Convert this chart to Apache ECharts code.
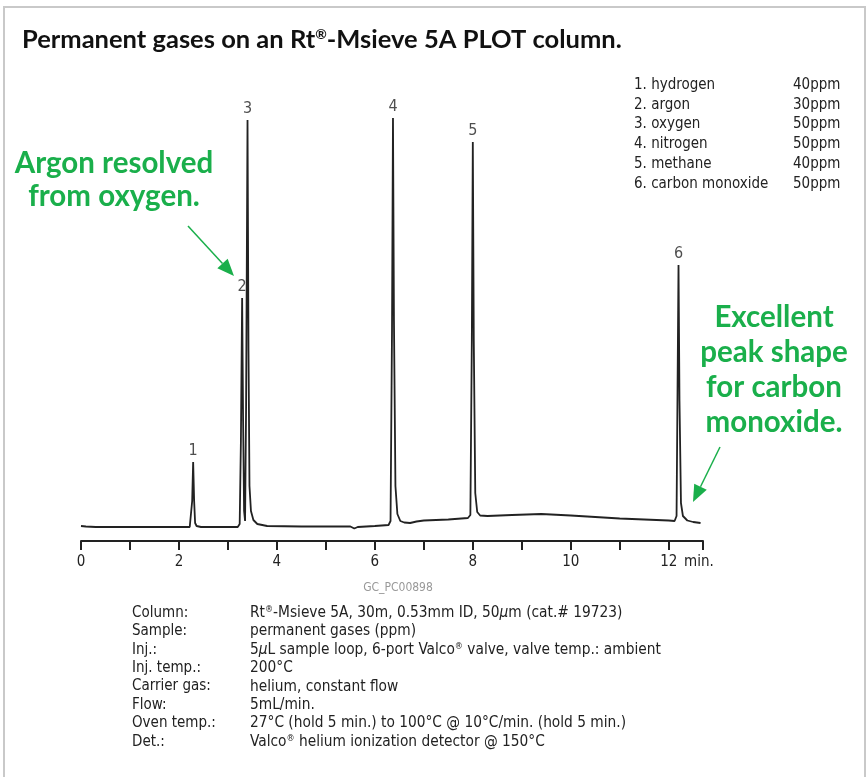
<!DOCTYPE html>
<html>
<head>
<meta charset="utf-8">
<script src="https://cdn.jsdelivr.net/npm/echarts@6/dist/echarts.min.js"></script>
<style>
  html, body { margin: 0; padding: 0; background: #fff; }
  #chart { width: 868px; height: 777px; }
</style>
</head>
<body>
<div id="chart"></div>
<script>
// retention time (min) and detector signal
const traceTime = [
  0.00, 0.10, 0.30, 1.00, 2.00, 2.22, 2.25, 2.27, 2.29, 2.31, 2.33, 2.36, 2.45,
  3.00, 3.20, 3.24, 3.265, 3.29, 3.31, 3.33, 3.35, 3.37, 3.40, 3.42, 3.44, 3.47, 3.52, 3.60, 3.80,
  4.50, 5.50, 5.58, 5.65, 6.00, 6.28, 6.32, 6.35, 6.37, 6.39, 6.42, 6.46, 6.52, 6.60, 6.72, 6.85,
  7.00, 7.50, 7.90, 7.95, 7.98, 8.00, 8.02, 8.05, 8.09, 8.15, 8.30, 8.80, 9.40, 10.00, 11.00,
  12.00, 12.12, 12.16, 12.18, 12.20, 12.22, 12.25, 12.29, 12.38, 12.50, 12.65
];
const traceSignal = [
  15, 14.5, 14, 14, 14, 14, 15.5, 40, 79, 40, 18, 15, 14,
  14, 14, 17, 100, 243, 120, 30, 20, 130, 421, 190, 55, 30, 21, 17, 15,
  14.5, 14.5, 12.5, 14, 15, 16, 20, 210, 423, 220, 55, 27, 20, 18.5, 18, 19.5,
  20.5, 21.5, 23, 26, 200, 399, 200, 48, 29, 25.5, 25, 26, 27, 25.5, 22.5,
  20.5, 20, 25, 150, 276, 140, 38, 25, 20.5, 19, 18
];

const peakNum = ['1', '2', '3', '4', '5', '6'];
const peakName = ['hydrogen', 'argon', 'oxygen', 'nitrogen', 'methane', 'carbon monoxide'];
const peakConc = ['40ppm', '30ppm', '50ppm', '50ppm', '40ppm', '50ppm'];
const peakTime = [2.29, 3.29, 3.40, 6.37, 8.00, 12.20];
const peakHeight = [79, 243, 421, 423, 399, 276];

const xTicks = [0, 2, 4, 6, 8, 10, 12];

const specLabels = ['Column:', 'Sample:', 'Inj.:', 'Inj. temp.:', 'Carrier gas:', 'Flow:', 'Oven temp.:', 'Det.:'];
const specValues = [
  'Rt{sup|®}-Msieve 5A, 30m, 0.53mm ID, 50{it|µ}m (cat.# 19723)',
  'permanent gases (ppm)',
  '5{it|µ}L sample loop, 6-port Valco{sup|®} valve, valve temp.: ambient',
  '200°C',
  'helium, constant flow',
  '5mL/min.',
  '27°C (hold 5 min.) to 100°C @ 10°C/min. (hold 5 min.)',
  'Valco{sup|®} helium ionization detector @ 150°C'
];

const narrow = '"Liberation Sans Narrow", "DejaVu Sans Condensed", sans-serif';
const green = '#1aaf4b';
const ink = '#222';

let chart = echarts.init(document.getElementById('chart'));

function arrow(x1, y1, x2, y2) {
  const a = Math.atan2(y2 - y1, x2 - x1);
  const len = 17, half = 7;
  const bx = x2 - len * Math.cos(a), by = y2 - len * Math.sin(a);
  const px = -Math.sin(a) * half, py = Math.cos(a) * half;
  return [
    { type: 'line', shape: { x1: x1, y1: y1, x2: bx, y2: by }, style: { stroke: green, lineWidth: 1.5 } },
    { type: 'polygon', shape: { points: [[x2, y2], [bx + px, by + py], [bx - px, by - py]] }, style: { fill: green } }
  ];
}

let graphic = [
  { type: 'rect', shape: { x: 4, y: 7, width: 861, height: 790 }, style: { fill: 'none', stroke: '#c9c9c9', lineWidth: 2 } },
  {
    type: 'text', x: 22, y: 40,
    style: {
      text: 'Permanent gases on an Rt{sup|®}-Msieve 5A PLOT column.',
      font: 'bold 25.5px Lato', fill: '#111', verticalAlign: 'middle',
      rich: { sup: { font: 'bold 14px Lato', fill: '#111', padding: [0, 0, 11, 0] } }
    }
  },
  {
    type: 'text', x: 114, y: 180,
    style: {
      text: 'Argon resolved\nfrom oxygen.', font: 'bold 29.5px Lato', fill: green,
      align: 'center', verticalAlign: 'middle', lineHeight: 33
    }
  },
  {
    type: 'text', x: 774, y: 370,
    style: {
      text: 'Excellent\npeak shape\nfor carbon\nmonoxide.', font: 'bold 29.5px Lato', fill: green,
      align: 'center', verticalAlign: 'middle', lineHeight: 35
    }
  },
  { type: 'text', x: 398, y: 588, style: { text: 'GC_PC00898', font: '12px ' + narrow, fill: '#999', align: 'center', verticalAlign: 'middle' } },
  { type: 'text', x: 684, y: 562, style: { text: 'min.', font: '15px ' + narrow, fill: ink, verticalAlign: 'middle' } }
];
graphic = graphic.concat(arrow(188, 226, 234, 276), arrow(720, 447, 693, 502));

peakName.forEach(function (n, i) {
  graphic.push({ type: 'text', x: 634, y: 85 + i * 19.8, style: { text: peakNum[i] + '. ' + n, font: '15px ' + narrow, fill: ink, verticalAlign: 'middle' } });
  graphic.push({ type: 'text', x: 793, y: 85 + i * 19.8, style: { text: peakConc[i], font: '15px ' + narrow, fill: ink, verticalAlign: 'middle' } });
});
specLabels.forEach(function (l, i) {
  const rich = {
    sup: { font: '9px ' + narrow, fill: ink, padding: [0, 0, 6, 0] },
    it: { font: 'italic 15.3px ' + narrow, fill: ink }
  };
  graphic.push({ type: 'text', x: 132, y: 613 + i * 18.4, style: { text: l, font: '15px ' + narrow, fill: ink, verticalAlign: 'middle' } });
  graphic.push({ type: 'text', x: 250, y: 613 + i * 18.4, style: { text: specValues[i], font: '15.3px ' + narrow, fill: ink, verticalAlign: 'middle', rich: rich } });
});

let option = {
  animation: false,
  backgroundColor: '#fff',
  grid: { left: 81, right: 165, top: 101, bottom: 236 },
  xAxis: {
    type: 'value', min: 0, max: 12.7, interval: 1,
    axisLine: { lineStyle: { color: ink, width: 2 } },
    axisTick: { length: 9, lineStyle: { color: ink, width: 2 } },
    splitLine: { show: false },
    axisLabel: {
      margin: 14, color: ink, fontSize: 15, fontFamily: narrow,
      formatter: function (v) { return xTicks.indexOf(v) >= 0 ? String(v) : ''; }
    }
  },
  yAxis: { type: 'value', min: 0, max: 440, show: false },
  series: [
    {
      type: 'line', data: traceTime.map(function (t, i) { return [t, traceSignal[i]]; }),
      showSymbol: false, smooth: false,
      lineStyle: { color: ink, width: 1.8 }
    },
    {
      type: 'scatter', symbolSize: 1, itemStyle: { color: 'rgba(0,0,0,0)' },
      data: peakTime.map(function (t, i) { return [t, peakHeight[i]]; }),
      label: {
        show: true, position: 'top', distance: 3, color: ink, fontSize: 16, fontFamily: narrow,
        formatter: function (p) { return peakNum[p.dataIndex]; }
      }
    }
  ],
  graphic: graphic
};
chart.setOption(option);
</script>
</body>
</html>
